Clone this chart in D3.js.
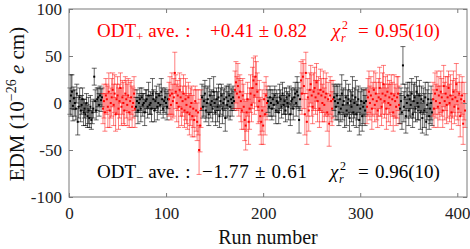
<!DOCTYPE html>
<html>
<head>
<meta charset="utf-8">
<script src="https://cdn.jsdelivr.net/npm/d3@7"></script>
<style>
  body { margin: 0; background: #fff; }
</style>
</head>
<body>
<svg id="svg" width="470" height="249"></svg>
<script>
// run blocks alternate ODT- (black) and ODT+ (red), 34 runs each
var blockStarts = [1, 35, 69, 103, 137, 171, 205, 239, 273, 307, 341, 375];
var blockSigns = ["-", "+", "-", "+", "-", "+", "-", "+", "-", "+", "-", "+"];

var edmValues = [
  [2, 8, 12, -3, 5, 0, -6, 10, -20, -4, 6, -8, -2, 4, -10, -6, -12, 0, -14, -8, -16, -4, -18, -10, -6, 28, 2, -8, 4, 6, -2, 8, 3, 6],
  [-6, 2, -10, 8, 4, -4, 12, -8, 0, 6, 14, -2, 10, -12, 4, 8, -6, 2, 16, -4, 6, 0, -8, 10, 4, -2, 8, -10, 2, 6, -4, 0, 10, -6],
  [-4, 2, -8, 0, 4, -6, 6, -2, 0, -10, 2, 4, -4, 8, -2, 0, -6, 10, 4, -8, 2, 6, -4, 0, 8, -2, 12, 4, -6, 2, 6, 0, -4, 4],
  [4, 8, -2, 10, 2, 6, 32, 12, 0, 8, -4, 14, 6, -6, 2, 10, -8, 4, -2, -10, 6, -12, -4, 0, -14, -6, -18, 2, -8, -20, -10, -50, -24, -6],
  [6, -4, 2, 10, -8, 0, 4, -12, 8, -2, 2, -6, 12, 0, -10, 4, -4, 6, -14, 2, 8, -6, 0, 4, -16, 6, -2, 2, 8, -4, 4, 0, 6, 2],
  [14, 22, 10, 18, 6, 12, 2, -8, 8, -4, -18, -24, -10, 4, -20, -6, 10, -2, 16, 24, 8, 28, 20, 12, -4, 2, -14, -20, -8, -24, 4, -12, 8, 0],
  [2, -4, 6, 0, -6, 4, -2, 8, -8, 2, 0, -10, 6, 4, -4, 10, -2, 2, -8, 6, 0, -4, 8, -12, 2, 4, -6, 6, 10, 0, 12, 8, -18, 4],
  [24, 10, 28, 18, -12, 32, -20, 6, -8, 14, 20, 8, -4, 12, 16, 6, 22, 2, 10, -6, 14, 8, 0, 12, -2, 6, 10, -10, 4, -22, 8, 2, -6, 4],
  [6, 2, -4, 8, 0, -10, 4, -6, 10, -2, 2, -14, 6, -8, 0, 4, -16, 2, -4, 8, -10, 0, 6, -12, -2, 4, -18, -6, 2, -14, -4, 0, -8, 2],
  [-4, 6, 12, 0, 8, -6, 4, 14, -2, 10, 2, -8, 6, 16, 4, -4, 10, 20, 2, 8, -6, 12, 0, 6, -2, 10, 4, -10, 8, 2, -4, 6, 10, -2],
  [-6, 2, -10, 40, -4, 6, -14, 0, 8, -8, 4, -2, 10, -12, 2, 6, -6, 12, 0, -4, 8, -10, 4, -16, 2, -8, 6, -20, -2, 4, -14, -6, 0, -10],
  [4, -6, 10, 2, 14, -4, 8, 0, 12, 6, -8, 18, 2, 10, -2, 6, 16, 0, 8, -10, 4, 12, -4, 6, 20, 2, -6, 10, -14, 4, 8, -22, 2, -8]
];

var edmErrors = [
  [14, 22, 18, 16, 12, 14, 12, 10, 14, 12, 10, 12, 10, 12, 14, 10, 12, 10, 12, 14, 10, 12, 10, 12, 10, 9, 12, 10, 12, 10, 12, 10, 12, 10],
  [16, 18, 20, 18, 16, 22, 20, 18, 16, 20, 18, 22, 20, 18, 16, 20, 22, 18, 16, 20, 18, 22, 16, 18, 20, 22, 18, 16, 20, 18, 22, 16, 18, 20],
  [10, 12, 14, 10, 12, 14, 10, 12, 10, 14, 12, 10, 12, 14, 10, 12, 14, 16, 10, 12, 10, 12, 14, 10, 12, 10, 14, 12, 10, 12, 10, 12, 14, 10],
  [18, 20, 16, 22, 18, 20, 22, 18, 20, 16, 22, 18, 20, 18, 16, 20, 18, 22, 20, 18, 16, 22, 20, 18, 22, 20, 18, 16, 22, 20, 24, 26, 28, 20],
  [14, 12, 16, 14, 12, 16, 14, 12, 18, 14, 12, 14, 16, 12, 14, 12, 16, 14, 12, 14, 12, 16, 14, 12, 14, 12, 14, 16, 12, 14, 12, 14, 12, 10],
  [20, 22, 18, 24, 20, 18, 22, 20, 18, 24, 22, 26, 20, 18, 24, 22, 20, 18, 22, 24, 20, 22, 24, 20, 18, 22, 20, 24, 22, 20, 18, 22, 20, 18],
  [12, 10, 12, 14, 12, 10, 12, 10, 14, 12, 10, 12, 14, 10, 12, 12, 10, 14, 12, 10, 12, 14, 10, 12, 14, 10, 12, 10, 12, 14, 16, 14, 14, 12],
  [20, 22, 18, 24, 22, 22, 24, 20, 22, 18, 20, 22, 18, 20, 22, 18, 20, 22, 18, 20, 22, 18, 20, 22, 18, 20, 22, 20, 18, 24, 20, 22, 18, 20],
  [14, 16, 14, 12, 18, 14, 16, 14, 20, 16, 14, 12, 18, 16, 14, 16, 14, 12, 16, 20, 14, 16, 18, 14, 16, 14, 16, 18, 14, 16, 18, 14, 16, 14],
  [18, 20, 22, 18, 20, 22, 18, 20, 18, 22, 20, 18, 20, 22, 18, 20, 22, 20, 18, 20, 22, 18, 20, 18, 22, 20, 18, 20, 22, 18, 20, 22, 18, 20],
  [16, 14, 18, 20, 16, 14, 18, 16, 14, 16, 18, 14, 16, 14, 18, 16, 14, 16, 18, 14, 16, 18, 14, 16, 14, 18, 16, 14, 16, 18, 14, 16, 18, 14],
  [18, 20, 22, 18, 20, 22, 20, 18, 22, 20, 18, 22, 20, 18, 20, 22, 18, 20, 22, 18, 20, 22, 18, 20, 22, 20, 18, 20, 22, 18, 20, 22, 20, 18]
];

var xTicks = [0, 100, 200, 300, 400];
var yTicks = [-100, -50, 0, 50, 100];

var width = 470;
var height = 249;
var margin = {top: 9, right: 3, bottom: 52, left: 69};
var frameColor = "#7a7a7a";
var serif = "Liberation Serif";

var svg = d3.select("#svg");

// flatten blocks into points
var points = [];
edmValues.forEach(function(block, b) {
  block.forEach(function(v, i) {
    points.push({run: blockStarts[b] + i, value: v, err: edmErrors[b][i], sign: blockSigns[b]});
  });
});

var x = d3.scaleLinear()
  .domain([0, 410])
  .range([margin.left, width - margin.right]);

var y = d3.scaleLinear()
  .domain([-100, 100])
  .range([height - margin.bottom, margin.top]);

var color = function(d) { return d.sign == "+" ? "#ff0000" : "#000000"; };

// error bars
var bars = svg.append("g")
  .selectAll("g")
  .data(points)
  .join("g")
    .attr("stroke", color)
    .attr("stroke-opacity", d => d.sign == "+" ? 0.5 : 0.6)
    .attr("stroke-width", 1);

bars.append("line")
  .attr("x1", d => x(d.run)).attr("x2", d => x(d.run))
  .attr("y1", d => y(d.value - d.err)).attr("y2", d => y(d.value + d.err));
bars.append("line")
  .attr("x1", d => x(d.run) - 2.5).attr("x2", d => x(d.run) + 2.5)
  .attr("y1", d => y(d.value + d.err)).attr("y2", d => y(d.value + d.err));
bars.append("line")
  .attr("x1", d => x(d.run) - 2.5).attr("x2", d => x(d.run) + 2.5)
  .attr("y1", d => y(d.value - d.err)).attr("y2", d => y(d.value - d.err));

// markers
svg.append("g")
  .selectAll("rect")
  .data(points)
  .join("rect")
    .attr("x", d => x(d.run) - 1)
    .attr("y", d => y(d.value) - 1)
    .attr("width", 2)
    .attr("height", 2)
    .attr("fill", color);

// axes (ticks inside, on all sides)
var tickLen = 4;
var axB = svg.append("g")
  .attr("transform", "translate(0," + (height - margin.bottom) + ")")
  .call(d3.axisBottom(x).tickValues(xTicks).tickSize(-tickLen).tickPadding(10).tickFormat(d3.format("d")));
var axT = svg.append("g")
  .attr("transform", "translate(0," + margin.top + ")")
  .call(d3.axisTop(x).tickValues(xTicks).tickSize(-tickLen).tickFormat(""));
var axL = svg.append("g")
  .attr("transform", "translate(" + margin.left + ",0)")
  .call(d3.axisLeft(y).tickValues(yTicks).tickSize(-tickLen).tickPadding(7)
    .tickFormat(d => d < 0 ? "-" + Math.abs(d) : d));
var axR = svg.append("g")
  .attr("transform", "translate(" + (width - margin.right) + ",0)")
  .call(d3.axisRight(y).tickValues(yTicks).tickSize(-tickLen).tickFormat(""));

[axB, axT, axL, axR].forEach(function(ax) {
  ax.attr("font-family", serif).attr("font-size", 17);
  ax.select(".domain").remove();
  ax.selectAll("line").attr("stroke", frameColor);
  ax.selectAll("text").attr("fill", "#222");
});

svg.append("rect")
  .attr("x", margin.left)
  .attr("y", margin.top)
  .attr("width", width - margin.left - margin.right)
  .attr("height", height - margin.top - margin.bottom)
  .attr("fill", "none")
  .attr("stroke", frameColor)
  .attr("stroke-width", 1);

// axis labels
svg.append("text")
  .attr("x", (margin.left + width - margin.right) / 2)
  .attr("y", 244)
  .attr("text-anchor", "middle")
  .attr("fill", "#111")
  .attr("font-family", serif)
  .attr("font-size", 20)
  .text("Run number");

var yl = svg.append("text")
  .attr("transform", "translate(24," + (y(0) + 1) + ") rotate(-90)")
  .attr("text-anchor", "middle")
  .attr("fill", "#111")
  .attr("font-family", serif)
  .attr("font-size", 21);
yl.append("tspan").text("EDM (10");
yl.append("tspan").attr("dy", -8).attr("font-size", 14).text("\u221226");
yl.append("tspan").attr("dy", 8).text(" ");
yl.append("tspan").attr("font-style", "italic").text("e");
yl.append("tspan").text(" cm)");

// annotations
var annotate = function(sign, fill, base, aveText, aveX, aveLen, chiX, chiText) {
  var t1 = svg.append("text")
    .attr("x", 97).attr("y", base)
    .attr("fill", fill)
    .attr("font-family", serif)
    .attr("font-size", 19);
  t1.append("tspan").text("ODT");
  t1.append("tspan").attr("dy", 4).attr("font-size", 13).text(sign);
  t1.append("tspan").attr("dy", -4).text(" ave.");
  t1.append("tspan").attr("dx", 6).text(":");

  svg.append("text")
    .attr("x", aveX).attr("y", base)
    .attr("fill", fill)
    .attr("font-family", serif)
    .attr("font-size", 19)
    .attr("textLength", aveLen)
    .attr("lengthAdjust", "spacing")
    .text(aveText);

  svg.append("text")
    .attr("x", chiX).attr("y", base)
    .attr("fill", fill)
    .attr("font-family", serif)
    .attr("font-size", 19)
    .attr("font-style", "italic")
    .text("\u03c7");
  svg.append("text")
    .attr("x", chiX + 10).attr("y", base - 8)
    .attr("fill", fill)
    .attr("font-family", serif)
    .attr("font-size", 12)
    .text("2");
  svg.append("text")
    .attr("x", chiX + 9).attr("y", base + 5)
    .attr("fill", fill)
    .attr("font-family", serif)
    .attr("font-size", 12)
    .attr("font-style", "italic")
    .text("r");
  svg.append("text")
    .attr("x", 358).attr("y", base)
    .attr("fill", fill)
    .attr("font-family", serif)
    .attr("font-size", 19)
    .text("=");
  svg.append("text")
    .attr("x", 375).attr("y", base)
    .attr("fill", fill)
    .attr("font-family", serif)
    .attr("font-size", 19)
    .text(chiText);
};

annotate("+", "#ff0000", 37, "+0.41 \u00b1 0.82", 210, 97, 332, "0.95(10)");
annotate("\u2212", "#000000", 178, "\u22121.77 \u00b1 0.61", 202, 105, 330, "0.96(10)");
</script>
</body>
</html>
